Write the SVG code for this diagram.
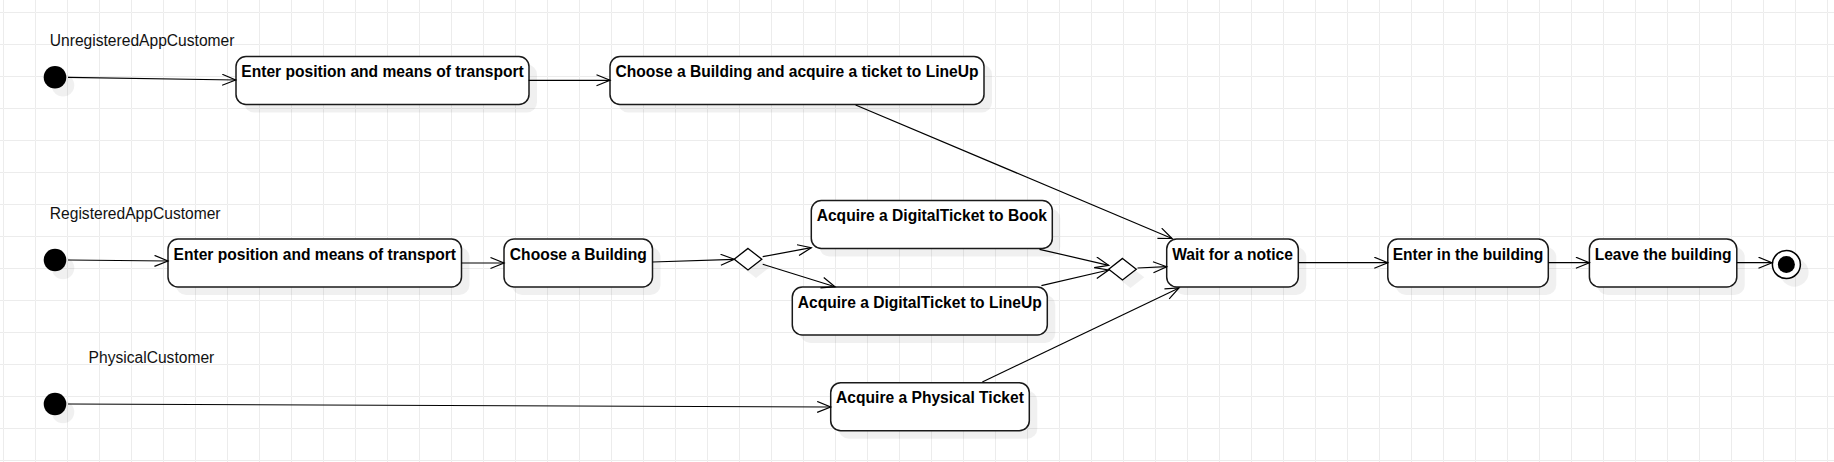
<svg xmlns="http://www.w3.org/2000/svg" width="1834" height="462" viewBox="0 0 1834 462">
<defs>
<pattern id="grid" x="3" y="12" width="32" height="32" patternUnits="userSpaceOnUse">
<path d="M 32 0.5 L 0.5 0.5 L 0.5 32" fill="none" stroke="#ececec" stroke-width="1"/>
</pattern>
<marker id="arr" markerUnits="userSpaceOnUse" markerWidth="16" markerHeight="13" refX="14" refY="6" orient="auto">
<path d="M0.5,0.5 L14,6 L0.5,11.5" fill="none" stroke="#000" stroke-width="1.2"/>
</marker>
<style>
.box{fill:#fff;stroke:#1a1a1a;stroke-width:1.5}
.sh{fill:#000;fill-opacity:0.06;stroke:none}
.t{font-family:"Liberation Sans",Arial,sans-serif;font-size:15.6px;font-weight:bold;fill:#000;text-anchor:middle}
.lbl{font-family:"Liberation Sans",Arial,sans-serif;font-size:15.6px;fill:#111}
.c{fill:none;stroke:#000;stroke-width:1.2;marker-end:url(#arr)}
.dia{fill:#fff;stroke:#000;stroke-width:1.3}
</style>
</defs>
<rect width="1834" height="462" fill="#fff"/>
<rect width="1834" height="462" fill="url(#grid)"/>

<g id="lanes">
<text class="lbl" x="49.8" y="46">UnregisteredAppCustomer</text>
<text class="lbl" x="49.8" y="219.3">RegisteredAppCustomer</text>
<text class="lbl" x="88.6" y="363.3">PhysicalCustomer</text>
</g>

<g id="start1"><circle class="sh" cx="63" cy="85.3" r="11.3"/><circle cx="55" cy="77.3" r="11.3" fill="#000"/></g>
<g id="start2"><circle class="sh" cx="63" cy="268" r="11.3"/><circle cx="55" cy="260" r="11.3" fill="#000"/></g>
<g id="start3"><circle class="sh" cx="63" cy="412" r="11.3"/><circle cx="55" cy="404" r="11.3" fill="#000"/></g>

<g id="n1"><rect class="sh" x="244" y="64.5" width="293" height="48" rx="10"/><rect class="box" x="236" y="56.5" width="293" height="48" rx="10"/><text class="t" x="382.5" y="77.3">Enter position and means of transport</text></g>
<g id="n2"><rect class="sh" x="618" y="64.5" width="374" height="48" rx="10"/><rect class="box" x="610" y="56.5" width="374" height="48" rx="10"/><text class="t" x="797" y="77.3">Choose a Building and acquire a ticket to LineUp</text></g>
<g id="n3"><rect class="sh" x="176" y="247" width="293.5" height="48" rx="10"/><rect class="box" x="168" y="239" width="293.5" height="48" rx="10"/><text class="t" x="314.8" y="259.8">Enter position and means of transport</text></g>
<g id="n4"><rect class="sh" x="512" y="247" width="148.5" height="48" rx="10"/><rect class="box" x="504" y="239" width="148.5" height="48" rx="10"/><text class="t" x="578.3" y="259.8">Choose a Building</text></g>
<g id="d1"><path class="sh" d="M756,256.4 L769.8,267.2 L756,278 L742.2,267.2 Z"/><path class="dia" d="M748,248.4 L761.8,259.2 L748,270 L734.2,259.2 Z"/></g>
<g id="n5"><rect class="sh" x="819.3" y="208.5" width="241" height="48" rx="10"/><rect class="box" x="811.3" y="200.5" width="241" height="48" rx="10"/><text class="t" x="931.8" y="221">Acquire a DigitalTicket to Book</text></g>
<g id="n6"><rect class="sh" x="800.3" y="295" width="255" height="48" rx="10"/><rect class="box" x="792.3" y="287" width="255" height="48" rx="10"/><text class="t" x="919.8" y="307.5">Acquire a DigitalTicket to LineUp</text></g>
<g id="n7"><rect class="sh" x="838.7" y="390.7" width="198.6" height="48" rx="10"/><rect class="box" x="830.7" y="382.7" width="198.6" height="48" rx="10"/><text class="t" x="930" y="403.3">Acquire a Physical Ticket</text></g>
<g id="d2"><path class="sh" d="M1130.5,266.4 L1144.3,277.2 L1130.5,288 L1116.7,277.2 Z"/><path class="dia" d="M1122.5,258.4 L1136.3,269.2 L1122.5,280 L1108.7,269.2 Z"/></g>
<g id="n8"><rect class="sh" x="1174.7" y="247" width="131.6" height="48" rx="10"/><rect class="box" x="1166.7" y="239" width="131.6" height="48" rx="10"/><text class="t" x="1232.5" y="259.8">Wait for a notice</text></g>
<g id="n9"><rect class="sh" x="1395.8" y="247" width="160.5" height="48" rx="10"/><rect class="box" x="1387.8" y="239" width="160.5" height="48" rx="10"/><text class="t" x="1468" y="259.8">Enter in the building</text></g>
<g id="n10"><rect class="sh" x="1597.4" y="247" width="147.4" height="48" rx="10"/><rect class="box" x="1589.4" y="239" width="147.4" height="48" rx="10"/><text class="t" x="1663.1" y="259.8">Leave the building</text></g>
<g id="end"><circle class="sh" cx="1794.4" cy="272.5" r="14.2"/><circle cx="1786.4" cy="264.5" r="14" fill="#fff" stroke="#000" stroke-width="1.5"/><circle cx="1786.4" cy="264.5" r="8.5" fill="#000"/></g>

<g id="connectors">
<path class="c" d="M68,77.3 L235.7,80"/>
<path class="c" d="M528.7,80.3 L610,80.3"/>
<path class="c" d="M855.6,105 L1172,238.5"/>
<path class="c" d="M68,260 L168,261"/>
<path class="c" d="M461.4,263 L504,263"/>
<path class="c" d="M652.4,262 L734.2,259.3"/>
<path class="c" d="M762.7,256.7 L811.3,247.7"/>
<path class="c" d="M762.7,264.3 L835,286.7"/>
<path class="c" d="M1039.5,249.3 L1108.7,265.3"/>
<path class="c" d="M1041.4,285.7 L1108.7,270"/>
<path class="c" d="M1137.5,268 L1166.7,266.7"/>
<path class="c" d="M68,404 L830.7,407"/>
<path class="c" d="M982.3,382 L1179,288"/>
<path class="c" d="M1298.3,262.7 L1387.8,262.7"/>
<path class="c" d="M1548.3,262.7 L1589.4,262.7"/>
<path class="c" d="M1736.8,262.7 L1772,262.7"/>
</g>
</svg>
